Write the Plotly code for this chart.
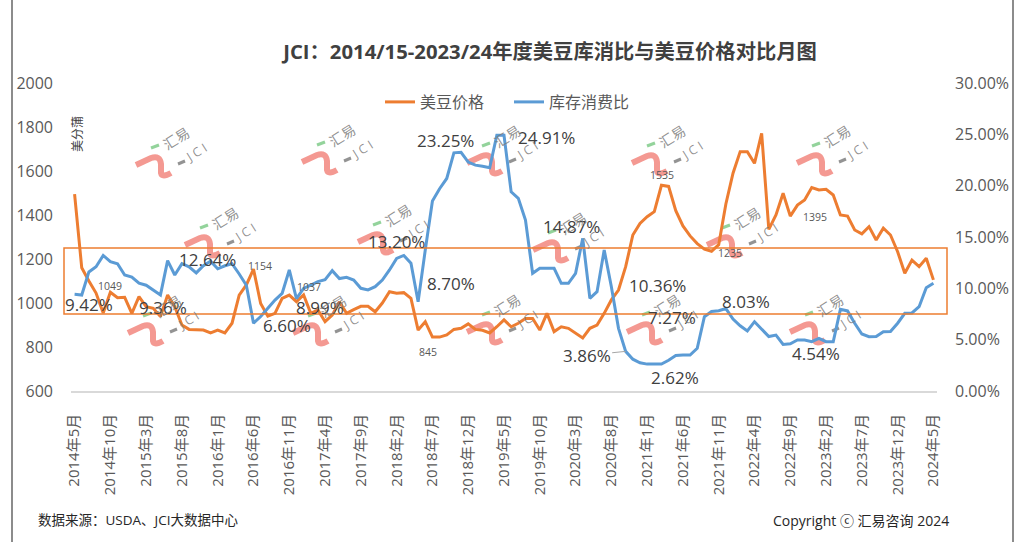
import plotly.graph_objects as go

# ---------------- data ----------------
months = [f"{2014 + (4 + i) // 12}年{(4 + i) % 12 + 1}月" for i in range(121)]
tick_idx = list(range(0, 121, 5))
tick_text = [months[i] for i in tick_idx]

price = [1495, 1160, 1100, 1045, 955, 1049, 1024, 1026, 953, 1029,
         983, 976, 938, 1036, 983, 900, 880, 877, 877, 864,
         877, 864, 908, 1036, 1082, 1154, 998, 940, 953, 1021,
         1036, 1006, 1037, 953, 968, 915, 945, 1006, 953, 970,
         985, 985, 960, 1000, 1051, 1044, 1047, 1021, 877, 915,
         845, 845, 855, 880, 885, 905, 880, 876, 864, 892,
         923, 892, 908, 930, 930, 877, 953, 870, 892, 885,
         864, 841, 885, 900, 953, 1014, 1059, 1165, 1309, 1362,
         1392, 1415, 1535, 1530, 1420, 1350, 1305, 1270, 1245, 1235,
         1265, 1450, 1590, 1688, 1688, 1635, 1771, 1335, 1400, 1499,
         1395, 1445, 1468, 1525, 1514, 1517, 1491, 1400, 1395, 1332,
         1314, 1347, 1286, 1340, 1309, 1233, 1135, 1195, 1165, 1203,
         1105]

ratio_pct = [9.42, 9.35, 11.6, 12.1, 13.2, 12.6, 12.4, 11.3, 11.1, 10.5,
             10.3, 9.85, 9.36, 12.7, 11.3, 12.4, 12.1, 11.5, 12.2, 12.64,
             11.9, 12.2, 12.4, 11.4, 10.3, 6.60, 7.25, 8.05, 8.86, 9.51,
             11.79, 8.99, 10.0, 10.32, 10.65, 10.85, 11.72, 10.95, 11.07, 10.81,
             10.0, 9.84, 10.16, 10.81, 11.79, 12.92, 13.20, 12.44, 8.70, 13.73,
             18.5, 19.7, 20.7, 23.2, 23.25, 22.3, 22.0, 21.9, 21.75, 24.91,
             24.91, 19.4, 18.77, 16.65, 11.46, 11.95, 11.95, 11.95, 10.49, 10.49,
             11.46, 14.87, 9.03, 9.67, 13.73, 10.16, 6.1, 3.86, 3.1, 2.75,
             2.62, 2.62, 2.62, 3.0, 3.45, 3.5, 3.5, 4.16, 7.24, 7.75,
             7.82, 8.03, 7.0, 6.35, 5.85, 6.75, 6.0, 5.3, 5.45, 4.54,
             4.6, 4.97, 4.97, 4.8, 5.13, 4.8, 4.8, 7.95, 7.8, 6.6,
             5.55, 5.29, 5.3, 5.78, 5.8, 6.6, 7.57, 7.6, 8.21, 10.05,
             10.49]
ratio = [v / 100 for v in ratio_pct]

# value labels: (series, month index, text, xshift, yshift)
big_labels = [
    ("r", 0, "9.42%", 14, -10), ("r", 12, "9.36%", 3, -13), ("r", 19, "12.64%", -3, 2),
    ("r", 25, "6.60%", 33, -2), ("r", 31, "8.99%", 24, -9), ("r", 46, "13.20%", -7, 14),
    ("r", 48, "8.70%", 33, 18), ("r", 54, "23.25%", -16, 12), ("r", 60, "24.91%", 42, -2),
    ("r", 71, "14.87%", -11, 12), ("r", 75, "10.36%", 46, 1), ("r", 88, "7.27%", -32, -1),
    ("r", 81, "2.62%", 21, -13), ("r", 91, "8.03%", 20, 7), ("r", 99, "4.54%", 33, -9),
]
small_labels = [
    ("p", 5, "1049", 0, 6), ("p", 25, "1154", 6, 3), ("p", 32, "1037", 5, 8),
    ("p", 50, "845", -4, -15), ("p", 82, "1535", 1, 10), ("p", 89, "1235", 18, -2),
    ("p", 100, "1395", 25, -1),
]

ORANGE = "#ED7D31"
BLUE = "#5B9BD5"
FONT = "Open Sans, Noto Sans CJK SC, sans-serif"

# plot area in pixels
L, R, T, B = 71, 937, 83, 391
W, H = R - L, B - T


def pp(x, y):
    return (x - L) / W, (B - y) / H


x = list(range(121))
fig = go.Figure()
fig.add_trace(go.Scatter(x=x, y=price, name="美豆价格", mode="lines",
                         line=dict(color=ORANGE, width=3)))
fig.add_trace(go.Scatter(x=x, y=ratio, name="库存消费比", mode="lines", yaxis="y2",
                         line=dict(color=BLUE, width=3)))

annotations = []
for s, i, t, dx, dy in big_labels:
    yref, yv = ("y2", ratio[i]) if s == "r" else ("y", price[i])
    annotations.append(dict(x=i, y=yv, xref="x", yref=yref, text=t, showarrow=False,
                            xshift=dx, yshift=dy, font=dict(size=17, color="#404040")))
# 3.86% with leader line
annotations.append(dict(x=77, y=ratio[77], xref="x", yref="y2", text="3.86%", showarrow=True,
                        arrowhead=0, arrowwidth=1, arrowcolor="#a6a6a6", ax=-39, ay=4,
                        font=dict(size=17, color="#404040")))
for s, i, t, dx, dy in small_labels:
    annotations.append(dict(x=i, y=price[i], xref="x", yref="y", text=t, showarrow=False,
                            xshift=dx, yshift=dy, font=dict(size=10.5, color="#595959")))


def paper_text(px, py, text, size, color, angle=0, xanchor="center"):
    ux, uy = pp(px, py)
    annotations.append(dict(x=ux, y=uy, xref="paper", yref="paper", text=text, textangle=angle,
                            xanchor=xanchor, yanchor="middle", showarrow=False,
                            font=dict(size=size, color=color)))


# axis unit
paper_text(77, 134, "美分蒲", 12, "#404040", angle=-90)
# footer
paper_text(36, 520, "数据来源：USDA、JCI大数据中心", 13.5, "#262626", xanchor="left")
paper_text(951, 520, "Copyright ⓒ 汇易咨询 2024", 14, "#262626", xanchor="right")

shapes = []
# watermark logos
anchors = [(136, 165), (302, 162), (467, 163), (632, 163), (797, 163),
           (185, 245), (358, 242), (533, 250), (707, 245),
           (128, 333), (293, 333), (467, 332), (627, 332), (790, 332)]
for (a, b) in anchors:
    pts = [(0, 0), (15, -7), (24, -10), (25, -1), (25, 8), (26, 13), (35, 8)]
    P = [pp(a + u, b + v) for u, v in pts]
    path = (f"M {P[0][0]},{P[0][1]} L {P[1][0]},{P[1][1]} Q {P[2][0]},{P[2][1]} {P[3][0]},{P[3][1]} "
            f"L {P[4][0]},{P[4][1]} Q {P[5][0]},{P[5][1]} {P[6][0]},{P[6][1]}")
    shapes.append(dict(type="path", path=path, xref="paper", yref="paper", layer="below",
                       line=dict(color="rgba(240,110,100,0.7)", width=6)))
    g0, g1 = pp(a + 15, b - 17), pp(a + 23, b - 20)
    shapes.append(dict(type="line", x0=g0[0], y0=g0[1], x1=g1[0], y1=g1[1], xref="paper", yref="paper",
                       layer="below", line=dict(color="rgba(120,200,130,0.8)", width=3)))
    d0, d1 = pp(a + 42, b - 1), pp(a + 49, b - 4)
    shapes.append(dict(type="line", x0=d0[0], y0=d0[1], x1=d1[0], y1=d1[1], xref="paper", yref="paper",
                       layer="below", line=dict(color="rgba(120,120,120,0.8)", width=3)))
    paper_text(a + 40, b - 27, "汇易", 14, "rgba(125,125,125,0.85)", angle=-32)
    paper_text(a + 60, b - 13, "J C I", 12.5, "rgba(125,125,125,0.85)", angle=-32)

# orange highlight box (price 950-1250)
bx0, _ = pp(64, 0)
bx1, _ = pp(947, 0)
shapes.append(dict(type="rect", xref="paper", yref="y", x0=bx0, x1=bx1, y0=950, y1=1250,
                   line=dict(color=ORANGE, width=1.5), fillcolor="rgba(0,0,0,0)", layer="above"))
# frame lines
for px_ in (12, 1013):
    xx, y_top = pp(px_, 0)
    _, y_bot = pp(px_, 542)
    shapes.append(dict(type="line", xref="paper", yref="paper", x0=xx, x1=xx, y0=y_top, y1=y_bot,
                       line=dict(color="#8c8c8c", width=2)))

lx, ly = pp(380, 102)
fig.update_layout(
    width=1024, height=542,
    margin=dict(l=L, r=1024 - R, t=T, b=542 - B),
    plot_bgcolor="white", paper_bgcolor="white",
    font=dict(family=FONT, color="#595959"),
    title=dict(text="<b>JCI：2014/15-2023/24年度美豆库消比与美豆价格对比月图</b>",
               x=550 / 1024, xanchor="center", xref="container",
               y=1 - 52 / 542, yanchor="middle", yref="container",
               font=dict(size=20.3, color="#404040", family=FONT)),
    showlegend=True,
    legend=dict(orientation="h", x=lx, xanchor="left", y=ly, yanchor="middle",
                font=dict(size=16, color="#595959"), bgcolor="rgba(0,0,0,0)", itemwidth=30,
                entrywidth=84, entrywidthmode="pixels"),
    xaxis=dict(range=[-0.5, 120.5], tickmode="array", tickvals=tick_idx, ticktext=tick_text,
               tickangle=-90, tickfont=dict(size=15, color="#595959"), showgrid=False,
               zeroline=False, showline=True, linecolor="#d9d9d9", linewidth=1.5, ticks="",
               ticklabelstandoff=15),
    yaxis=dict(range=[600, 2000], tick0=600, dtick=200, showgrid=False, zeroline=False,
               tickfont=dict(size=16, color="#595959"), ticks="", ticklabelstandoff=17),
    yaxis2=dict(range=[0, 0.30], tick0=0, dtick=0.05, tickformat=".2%", overlaying="y", side="right",
                showgrid=False, zeroline=False, tickfont=dict(size=16, color="#595959"), ticks="",
                ticklabelstandoff=17),
    annotations=annotations,
    shapes=shapes,
)

fig.write_html("out.html", config={"displayModeBar": False},
               post_script="document.body.style.margin='0';document.body.style.padding='0';"
                           "document.body.style.overflow='hidden';")
